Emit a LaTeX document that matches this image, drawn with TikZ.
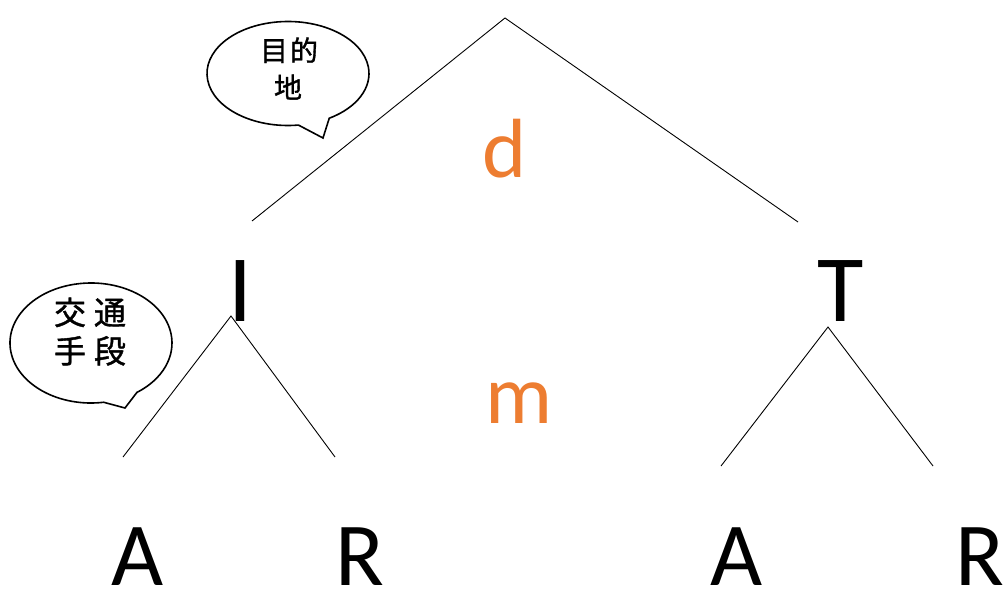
\documentclass[tikz,border=0pt]{standalone}
\usepackage{fontspec}
\setmainfont{Carlito}
\newfontfamily\cjk[FakeBold=1.2]{Noto Sans CJK JP}
\definecolor{accent}{HTML}{ED7D31}
\begin{document}
\begin{tikzpicture}[x=1pt,y=-1pt,
  branch/.style={draw=black,line width=0.9pt},
  bubble/.style={draw=black,fill=white,line width=1.6pt,line join=miter},
  bigletter/.style={inner sep=0pt,anchor=base,font=\fontsize{90}{90}\selectfont},
  capletter/.style={inner sep=0pt,anchor=base,font=\fontsize{95}{95}\selectfont},
  orangeletter/.style={inner sep=0pt,anchor=base,text=accent,font=\fontsize{84}{84}\selectfont},
  bubbletext/.style={inner sep=0pt,anchor=base}]
\useasboundingbox (0,0) rectangle (1004,591);

% tree lines
\coordinate (top) at (505,18);
\coordinate (topL) at (252,221);
\coordinate (topR) at (798,222);
\coordinate (iTop) at (231,316);
\coordinate (iL) at (123,457);
\coordinate (iR) at (335,457);
\coordinate (tTop) at (828,327);
\coordinate (tL) at (721,466);
\coordinate (tR) at (933,466);
\draw[branch] (topL) -- (top) -- (topR);
\draw[branch] (iL) -- (iTop) -- (iR);
\draw[branch] (tL) -- (tTop) -- (tR);

% letters
\node[orangeletter] (d) at (505,178) {d};
\node[orangeletter] (m) at (519,423) {m};
\node[capletter] (I) at (240,321) {I};
\node[capletter] (T) at (841,321) {T};
\node[bigletter] (A1) at (138,585) {A};
\node[bigletter] (R1) at (360,585) {R};
\node[bigletter] (A2) at (737,585) {A};
\node[bigletter] (R2) at (980,585) {R};

% callout 1
\coordinate (c1) at (288,73.5);
\coordinate (tip1) at (323,138);
\draw[bubble] (c1) ++(82.6:81 and 52) coordinate (b1L)
  arc[start angle=82.6,end angle=419.4,x radius=81,y radius=52]
  -- (tip1) -- cycle;
\node[bubbletext,font=\cjk\fontsize{28}{28}\selectfont] (t1a) at (289,61) {目\hspace{2pt}的};
\node[bubbletext,font=\cjk\fontsize{28}{28}\selectfont] (t1b) at (288,98) {地};

% callout 2
\coordinate (c2) at (91,343);
\coordinate (tip2) at (125,408);
\draw[bubble] (c2) ++(81:81 and 60) coordinate (b2L)
  arc[start angle=81,end angle=415.5,x radius=81,y radius=60]
  -- (tip2) -- cycle;
\node[bubbletext,font=\cjk\fontsize{32}{32}\selectfont] (t2a) at (90,324.5) {交\hspace{8pt}通};
\node[bubbletext,font=\cjk\fontsize{32}{32}\selectfont] (t2b) at (90,363) {手\hspace{8pt}段};
\end{tikzpicture}
\end{document}
